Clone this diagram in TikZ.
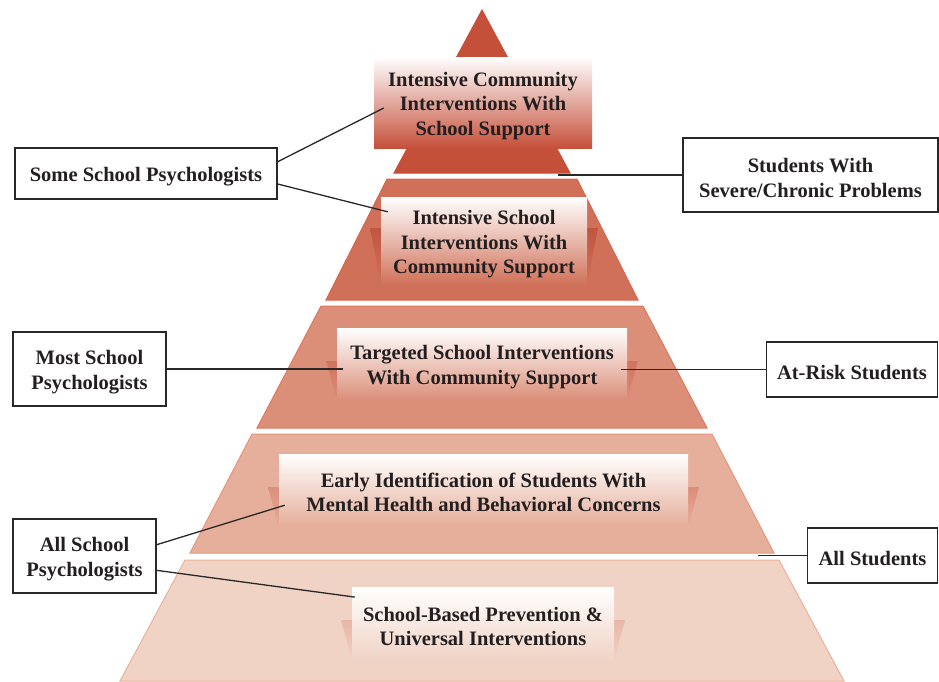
\documentclass[tikz,border=0pt]{standalone}
\usepackage{fontspec}
\setmainfont{Liberation Serif}
\usetikzlibrary{calc}
\definecolor{t1}{RGB}{197,80,58}
\definecolor{t2}{RGB}{208,112,88}
\definecolor{t3}{RGB}{219,142,120}
\definecolor{t4}{RGB}{230,175,155}
\definecolor{t5}{RGB}{240,211,197}
\definecolor{e1}{RGB}{205,75,55}
\definecolor{e2}{RGB}{218,100,75}
\definecolor{e3}{RGB}{224,120,95}
\definecolor{e4}{RGB}{230,150,125}
\definecolor{e5}{RGB}{234,178,152}
\definecolor{w2}{RGB}{192,86,64}
\definecolor{w3}{RGB}{208,116,94}
\definecolor{w4}{RGB}{220,142,122}
\definecolor{w5}{RGB}{232,182,166}
\definecolor{txt}{RGB}{35,31,32}
\definecolor{lin}{RGB}{40,40,40}
\newcommand{\tst}{\rule{0pt}{20.5pt}}
\begin{document}
\begin{tikzpicture}[x=1pt,y=-1pt,
  lbl/.style={font=\fontsize{20.5}{24.5}\selectfont\bfseries, text=txt, align=center, inner sep=0pt},
  tierbox/.style={lbl, top color=white},
  sidebox/.style={lbl, draw=lin, line width=1.5pt, fill=white},
  conn/.style={draw=lin, line width=1.3pt},
  tier/.style={line width=1pt}]
\useasboundingbox (0,0) rectangle (939,681);
% pyramid tiers
\path[tier, fill=t1, draw=e1] (482,10) -- (570,173) -- (394,173) -- cycle;
\path[tier, fill=t2, draw=e2] (387,179) -- (577,179) -- (638,300) -- (326,300) -- cycle;
\path[tier, fill=t3, draw=e3] (321,306) -- (643,306) -- (707,428) -- (257,428) -- cycle;
\path[tier, fill=t4, draw=e4] (252,434) -- (712,434) -- (774,553) -- (190,553) -- cycle;
\path[tier, fill=t5, draw=e5] (185,560) -- (779,560) -- (844,681) -- (120,681) -- cycle;
% wedges beside the boxes
\shade[top color=w2, bottom color=t2] (370,228) -- (381,228) -- (381,284) -- cycle;
\shade[top color=w2, bottom color=t2] (598,228) -- (587,228) -- (587,284) -- cycle;
\shade[top color=w3, bottom color=t3] (326,361) -- (337,361) -- (337,400) -- cycle;
\shade[top color=w3, bottom color=t3] (638,361) -- (627,361) -- (627,400) -- cycle;
\shade[top color=w4, bottom color=t4] (268,487) -- (279,487) -- (279,528) -- cycle;
\shade[top color=w4, bottom color=t4] (699,487) -- (688,487) -- (688,528) -- cycle;
\shade[top color=w5, bottom color=t5] (341,620) -- (352,620) -- (352,660) -- cycle;
\shade[top color=w5, bottom color=t5] (625,620) -- (614,620) -- (614,660) -- cycle;
% boxes in the tiers
\node[tierbox, bottom color=t1, minimum width=218, minimum height=91] (b1) at (483,102.5)
  {\tst Intensive Community\\Interventions With\\School Support};
\node[tierbox, bottom color=t2, minimum width=206, minimum height=88] (b2) at (484,241)
  {\tst Intensive School\\Interventions With\\Community Support};
\node[tierbox, bottom color=t3, minimum width=290, minimum height=72] (b3) at (482,364)
  {\tst Targeted School Interventions\\With Community Support};
\node[tierbox, bottom color=t4, minimum width=409, minimum height=71] (b4) at (483.5,489.5)
  {\tst Early Identification of Students With\\Mental Health and Behavioral Concerns};
\node[tierbox, bottom color=t5, minimum width=262, minimum height=73] (b5) at (483,623.5)
  {\tst School-Based Prevention \&\\Universal Interventions};
% side labels
\node[sidebox, minimum width=262, minimum height=51] (L1) at (146,173.5) {\tst Some School Psychologists};
\node[sidebox, minimum width=153, minimum height=74] (L2) at (89.5,369) {\tst Most School\\Psychologists};
\node[sidebox, minimum width=143, minimum height=74] (L3) at (84.5,556) {\tst All School\\Psychologists};
\node[sidebox, minimum width=255, minimum height=74] (R1) at (810.5,175) {\tst Students With\\Severe/Chronic Problems};
\node[sidebox, minimum width=171, minimum height=55] (R2) at (852,369.5) {\tst At-Risk Students};
\node[sidebox, minimum width=130, minimum height=55] (R3) at (872.5,555.5) {\tst All Students};
% free ends
\coordinate (c1) at (558,175);
\coordinate (c3) at (758,555.5);
% connectors
\draw[conn] ($(L1.north east)!0.275!(L1.south east)$) -- ($(b1.north west)!0.56!(b1.south west)+(10,0)$);
\draw[conn] ($(L1.north east)!0.70!(L1.south east)$) -- ($(b2.north west)!0.17!(b2.south west)+(7,0)$);
\draw[conn] (R1.west) -- (c1);
\draw[conn] (L2.east) -- ($(L2.east -| b3.west)+(6,0)$);
\draw[conn] (R2.west) -- ($(R2.west -| b3.east)+(-6,0)$);
\draw[conn] ($(L3.north east)!0.35!(L3.south east)$) -- ($(b4.north west)!0.72!(b4.south west)+(6,0)$);
\draw[conn] ($(L3.north east)!0.69!(L3.south east)$) -- ($(b5.north west)!0.14!(b5.south west)+(3,0)$);
\draw[conn] (R3.west) -- (c3);
\end{tikzpicture}
\end{document}
